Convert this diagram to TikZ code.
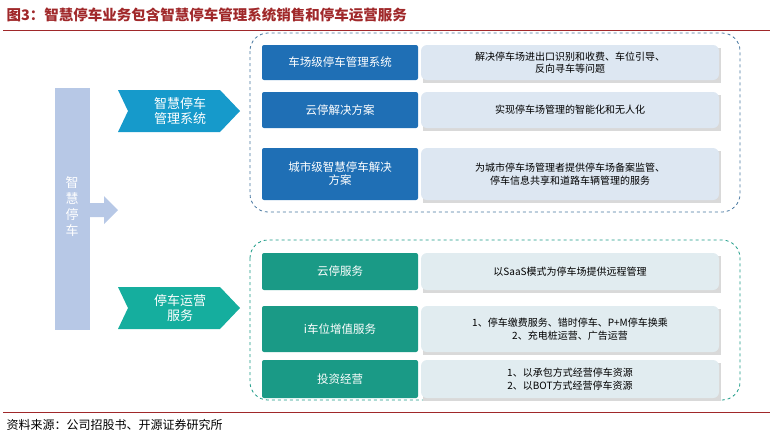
\documentclass[tikz,border=0pt]{standalone}
\usepackage{fontspec}
\newfontfamily\cjk{Noto Sans CJK SC}
\usetikzlibrary{shapes.arrows,positioning}
\definecolor{titlered}{HTML}{A0282A}
\definecolor{darkblue}{HTML}{1F6FB5}
\definecolor{paleblue}{HTML}{DDE7F2}
\definecolor{barblue}{HTML}{B7C8E6}
\definecolor{darkteal}{HTML}{1A9A86}
\definecolor{paleteal}{HTML}{E1ECF0}
\tikzstyle{keybox} = [rounded corners=2pt, text=white, align=center, font=\cjk\fontsize{11.5}{13}\selectfont, inner sep=0pt]
\tikzstyle{descbox} = [rounded corners=6pt, align=center, font=\cjk\fontsize{10}{12.5}\selectfont, inner sep=0pt]
\tikzstyle{frame} = [rounded corners=18pt, dashed, thick]
\begin{document}
\begin{tikzpicture}[x=1pt,y=-1pt]
	\useasboundingbox (0,0) rectangle (774,437);
	\node[anchor=west, text=titlered, font=\cjk\bfseries\fontsize{14.5}{16}\selectfont] (title) at (3,15) {图3：智慧停车业务包含智慧停车管理系统销售和停车运营服务};
	\draw[titlered, thick] (3,30) -- (770,30);
	\draw[titlered, thick] (3,412) -- (770,412);
	\node[anchor=west, font=\cjk\fontsize{12}{14}\selectfont] (src) at (3,425) {资料来源：公司招股书、开源证券研究所};

	% left bar
	\fill[barblue] (55,88) rectangle (90,330);
	\node[text=white, align=center, font=\cjk\fontsize{13}{16}\selectfont] (bar) at (72,207) {智\\慧\\停\\车};
	\fill[barblue] (90,203) -- (104,203) -- (104,196) -- (118,210) -- (104,224) -- (104,217) -- (90,217) -- cycle;

	% chevrons
	\fill[darkblue!70!cyan] (118,90) -- (220,90) -- (240,111) -- (220,132) -- (118,132) -- (128,111) -- cycle;
	\node[text=white, align=center, font=\cjk\fontsize{13}{15}\selectfont] (mgmt) at (180,111) {智慧停车\\管理系统};
	\fill[darkteal!80!cyan] (118,287) -- (220,287) -- (240,308) -- (220,329) -- (118,329) -- (128,308) -- cycle;
	\node[text=white, align=center, font=\cjk\fontsize{13}{15}\selectfont] (oper) at (180,308) {停车运营\\服务};

	% frames
	\draw[frame, darkblue!60!gray] (250,33) rectangle (740,212);
	\draw[frame, darkteal] (250,240) rectangle (740,400);

	% upper rows
	\foreach \ya/\yb/\k/\d in {45/80/车场级停车管理系统/解决停车场进出口识别和收费、车位引导、\\反向寻车等问题,
		92/128/云停解决方案/实现停车场管理的智能化和无人化,
		148/200/城市级智慧停车解决\\方案/为城市停车场管理者提供停车场备案监管、\\停车信息共享和道路车辆管理的服务}{
		\fill[gray!30] (423,\ya+3) rectangle (721,\yb+3);
		\node[descbox, fill=paleblue, minimum width=298pt, minimum height=\yb-\ya] at (570,{(\ya+\yb)/2}) {\d};
		\node[keybox, fill=darkblue, minimum width=156pt, minimum height=\yb-\ya] at (340,{(\ya+\yb)/2}) {\k};
	}

	% lower rows
	\foreach \ya/\yb/\k/\d in {253/290/云停服务/以SaaS模式为停车场提供远程管理,
		306/352/i车位增值服务/1、停车缴费服务、错时停车、P+M停车换乘\\2、充电桩运营、广告运营,
		360/398/投资经营/1、以承包方式经营停车资源\\2、以BOT方式经营停车资源}{
		\fill[gray!30] (423,\ya+3) rectangle (721,\yb+3);
		\node[descbox, fill=paleteal, minimum width=298pt, minimum height=\yb-\ya] at (570,{(\ya+\yb)/2}) {\d};
		\node[keybox, fill=darkteal, minimum width=156pt, minimum height=\yb-\ya] at (340,{(\ya+\yb)/2}) {\k};
	}
\end{tikzpicture}
\end{document}
